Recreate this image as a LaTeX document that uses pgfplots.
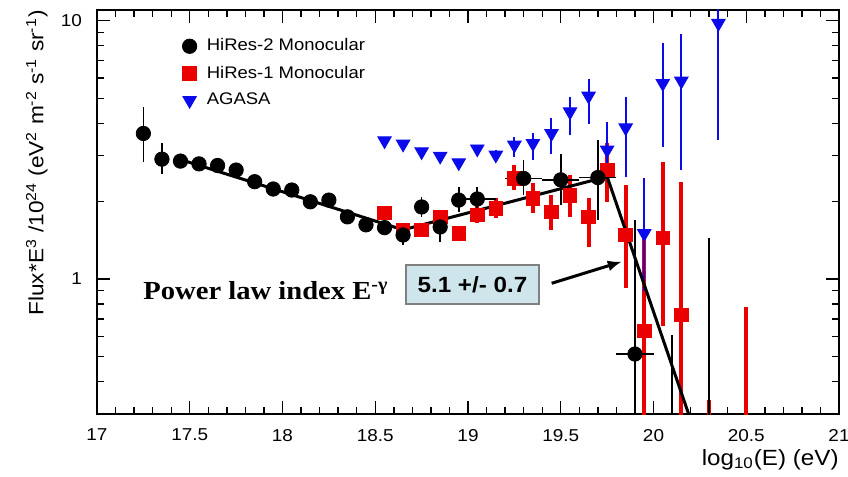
\documentclass[border=0pt]{standalone}
\usepackage{fontspec}
\setmainfont{Liberation Sans}[FakeStretch=1.1]
\newfontfamily\timesfont{Liberation Serif}[FakeStretch=1.1]
\usepackage{pgfplots}
\usepackage{pgfplotstable}
\pgfplotsset{compat=1.18}
\usetikzlibrary{arrows.meta,calc}
\definecolor{hrred}{RGB}{235,0,0}
\definecolor{agblue}{RGB}{10,10,235}
\definecolor{boxfill}{RGB}{206,230,235}

% HiRes-2 Monocular: x y ex ep em
\pgfplotstableread{
x y ex ep em
17.25 3.66 0 0.99 0.83
17.35 2.91 0 0.44 0.35
17.45 2.86 0 0.14 0.14
17.55 2.79 0 0.09 0.09
17.65 2.75 0 0.08 0.08
17.75 2.64 0 0.08 0.08
17.85 2.38 0 0.07 0.07
17.95 2.23 0 0.07 0.07
18.05 2.21 0 0.08 0.08
18.15 1.99 0 0.07 0.07
18.25 2.02 0 0.08 0.08
18.35 1.74 0 0.07 0.07
18.45 1.62 0 0.07 0.07
18.55 1.58 0 0.08 0.08
18.65 1.48 0 0.11 0.13
18.75 1.90 0 0.18 0.16
18.85 1.59 0 0.18 0.20
18.95 2.02 0 0.26 0.20
19.05 2.04 0.1 0.24 0.24
19.30 2.45 0.1 0.44 0.34
19.50 2.42 0.1 0.64 0.49
19.70 2.47 0.1 0.98 0.78
19.90 0.512 0.1 1.18 0.45
20.10 0.2 0 0.407 0
20.30 0.2 0 1.24 0
}\hrtwo

% HiRes-1 Monocular: x y ep em
\pgfplotstableread{
x y ep em
18.55 1.80 0.06 0.06
18.65 1.54 0.05 0.05
18.75 1.55 0.05 0.05
18.85 1.74 0.11 0.10
18.95 1.50 0.07 0.07
19.05 1.77 0.16 0.13
19.15 1.88 0.17 0.16
19.25 2.45 0.31 0.24
19.35 2.05 0.30 0.25
19.45 1.82 0.29 0.27
19.55 2.11 0.42 0.37
19.65 1.74 0.32 0.41
19.75 2.64 0.72 0.65
19.85 1.48 0.83 0.56
19.95 0.63 0.92 0.58
20.05 1.44 1.40 0.78
20.15 0.725 1.655 0.675
20.30 0.25 0.09 0
20.50 0.2 0.58 0
}\hrone

% AGASA: x y ep em
\pgfplotstableread{
x y ep em
18.55 3.43 0.10 0.10
18.65 3.33 0.10 0.10
18.75 3.11 0.10 0.10
18.85 2.99 0.10 0.10
18.95 2.82 0.10 0.10
19.05 3.19 0.12 0.12
19.15 3.02 0.13 0.13
19.25 3.30 0.25 0.33
19.35 3.35 0.31 0.46
19.45 3.66 0.53 0.60
19.55 4.44 0.64 0.83
19.65 5.11 0.84 1.13
19.75 3.16 0.90 0.66
19.85 3.85 1.23 1.36
19.95 1.50 0.95 0.60
20.05 5.72 2.51 2.47
20.15 5.84 3.06 3.20
20.35 9.77 5.00 6.32
}\agasa

\begin{document}
\begin{tikzpicture}
\begin{axis}[name=ax, scale only axis, width=371pt, height=202pt,
  xmin=17, xmax=21, ymode=log, ymin=0.3, ymax=11,
  xtick={17,17.5,18,18.5,19,19.5,20,20.5,21},
  xticklabels={17,17.5,18,18.5,19,19.5,20,20.5,21},
  minor x tick num=4,
  ytick={1,10}, yticklabels={1,10},
  minor ytick={0.3,0.4,0.5,0.6,0.7,0.8,0.9,2,3,4,5,6,7,8,9},
  tick align=inside, major tick length=6.5pt, minor tick length=3.5pt,
  axis line style={line width=0.75pt},
  every tick/.style={black, line width=0.7pt},
  /pgf/number format/assume math mode=true,
  xticklabel style={font=\fontsize{8.6}{10}\selectfont, yshift=-4pt},
  yticklabel style={font=\fontsize{8.6}{10}\selectfont, xshift=-4pt},
  xlabel={log\textsubscript{10}(E) (eV)},
  xlabel style={at={(rel axis cs:1,0)}, anchor=north east, inner sep=0pt, yshift=-17.5pt, font=\fontsize{11}{13}\selectfont},
  ylabel={Flux*E\textsuperscript{3} /10\textsuperscript{24} (eV\textsuperscript{2} m\textsuperscript{-2} s\textsuperscript{-1} sr\textsuperscript{-1})},
  ylabel style={at={(rel axis cs:-0.066,1)}, anchor=south east, inner sep=0pt, font=\fontsize{10.3}{12}\selectfont},
  legend style={draw=none, fill=none, at={(rel axis cs:0.1146,0.930)}, anchor=north west,
    inner sep=0pt, column sep=5pt, row sep=6pt, font=\fontsize{8.4}{9}\selectfont,
    nodes={inner sep=0pt}},
  legend cell align=left,
  legend image code/.code={\draw[mark repeat=2,mark phase=2,#1] plot coordinates {(0pt,0pt) (4pt,0pt) (8pt,0pt)};},
]
\addlegendimage{only marks, mark=*, black, mark size=3.6pt}
\addlegendentry{HiRes-2 Monocular}
\addlegendimage{only marks, mark=square*, hrred, mark size=3.4pt}
\addlegendentry{HiRes-1 Monocular}
\addlegendimage{only marks, mark=triangle*, agblue, mark size=3.9pt, mark options={rotate=180}}
\addlegendentry{AGASA}

\addplot[forget plot, only marks, mark=square*, hrred, mark size=3.4pt,
  error bars/.cd, y dir=both, y explicit, error mark=none,
  error bar style={line width=2pt, hrred}]
  table[x=x, y=y, y error plus=ep, y error minus=em] {\hrone};

\addplot[forget plot, only marks, mark=*, black, mark size=3.6pt,
  error bars/.cd, y dir=both, y explicit, x dir=both, x explicit, error mark=none,
  error bar style={line width=0.8pt, black}]
  table[x=x, y=y, x error=ex, y error plus=ep, y error minus=em] {\hrtwo};

\addplot[forget plot, only marks, mark=triangle*, agblue, mark size=3.9pt, mark options={rotate=180},
  error bars/.cd, y dir=both, y explicit, error mark=none,
  error bar style={line width=1pt, agblue}]
  table[x=x, y=y, y error plus=ep, y error minus=em] {\agasa};

\addplot[forget plot, black, line width=1.5pt, no marks]
  coordinates {(17.45,2.90) (18.65,1.55) (19.75,2.49) (20.25,0.224)};

\node[anchor=base west, font=\timesfont\bfseries\fontsize{13}{15}\selectfont, inner sep=0pt]
  at (axis cs:17.248,0.835) {Power law index E\textsuperscript{-γ}};
\node[draw=gray, fill=boxfill, line width=0.6pt, minimum width=66.5pt, minimum height=19.5pt,
  inner sep=0pt, font=\bfseries\fontsize{11}{13}\selectfont]
  at (axis cs:19.024,0.952) {5.1 +/- 0.7};
\draw[line width=1.5pt, -{Latex[length=7pt,width=5.5pt]}]
  (axis cs:19.451,0.962) -- (axis cs:19.829,1.167);
\end{axis}
\pgfresetboundingbox
\path[use as bounding box] ($(ax.south west)+(-48.5pt,-31pt)$) rectangle ($(ax.north east)+(4.5pt,5pt)$);
\end{tikzpicture}
\end{document}
